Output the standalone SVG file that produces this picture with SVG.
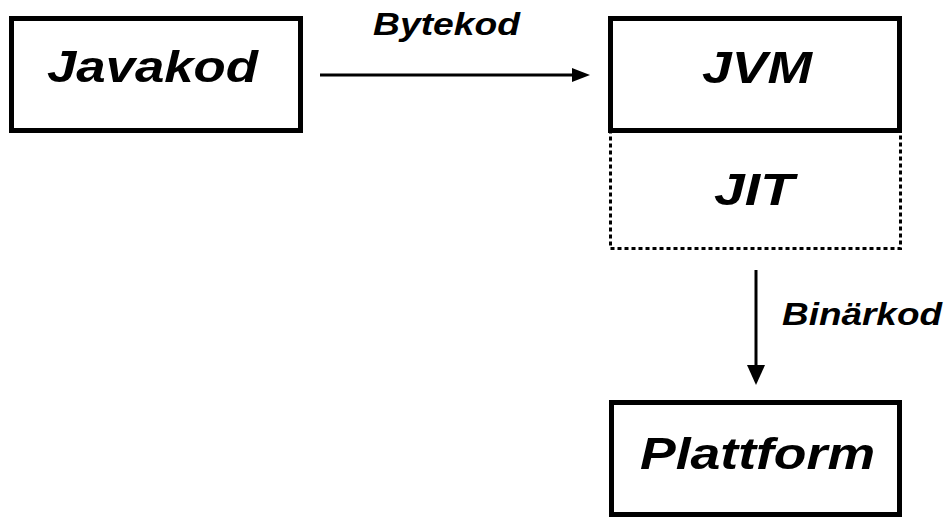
<svg xmlns="http://www.w3.org/2000/svg" width="950" height="518" viewBox="0 0 950 518">
  <style>
    .box { fill: #ffffff; stroke: #000000; stroke-width: 5; }
    .dotted { fill: none; stroke: #000000; stroke-width: 3; stroke-dasharray: 4 3; }
    .big { font-family: "Liberation Sans", Arial, sans-serif; font-weight: bold; font-style: italic; font-size: 44px; fill: #000000; }
    .small { font-family: "Liberation Sans", Arial, sans-serif; font-weight: bold; font-style: italic; font-size: 31px; fill: #000000; }
    .line { stroke: #000000; stroke-width: 3; fill: none; }
    .head { fill: #000000; stroke: none; }
  </style>
  <rect width="950" height="518" fill="#ffffff"/>

  <g id="javakod">
    <rect class="box" x="11.5" y="18.5" width="289" height="112"/>
    <text class="big" x="47" y="82" textLength="211" lengthAdjust="spacingAndGlyphs">Javakod</text>
  </g>

  <g id="jit">
    <rect class="dotted" x="610.5" y="131.5" width="290" height="117"/>
    <text class="big" x="714" y="205" font-size="52" textLength="80" lengthAdjust="spacingAndGlyphs">JIT</text>
  </g>

  <g id="jvm">
    <rect class="box" x="610.5" y="18.5" width="289" height="112"/>
    <text class="big" x="702" y="83" font-size="47" textLength="110" lengthAdjust="spacingAndGlyphs">JVM</text>
  </g>

  <g id="plattform">
    <rect class="box" x="611.5" y="402.5" width="288" height="112"/>
    <text class="big" x="640" y="469" textLength="235" lengthAdjust="spacingAndGlyphs">Plattform</text>
  </g>

  <g id="connectors">
    <g id="bytekod-edge">
      <line class="line" x1="320" y1="75" x2="576" y2="75"/>
      <polygon class="head" points="572,68 590,75 572,82"/>
      <text class="small" x="373" y="35" textLength="147" lengthAdjust="spacingAndGlyphs">Bytekod</text>
    </g>
    <g id="binarkod-edge">
      <line class="line" x1="756" y1="270" x2="756" y2="368"/>
      <polygon class="head" points="747,365 756,385 765,365"/>
      <text class="small" x="782" y="325" textLength="160" lengthAdjust="spacingAndGlyphs">Binärkod</text>
    </g>
  </g>
</svg>
